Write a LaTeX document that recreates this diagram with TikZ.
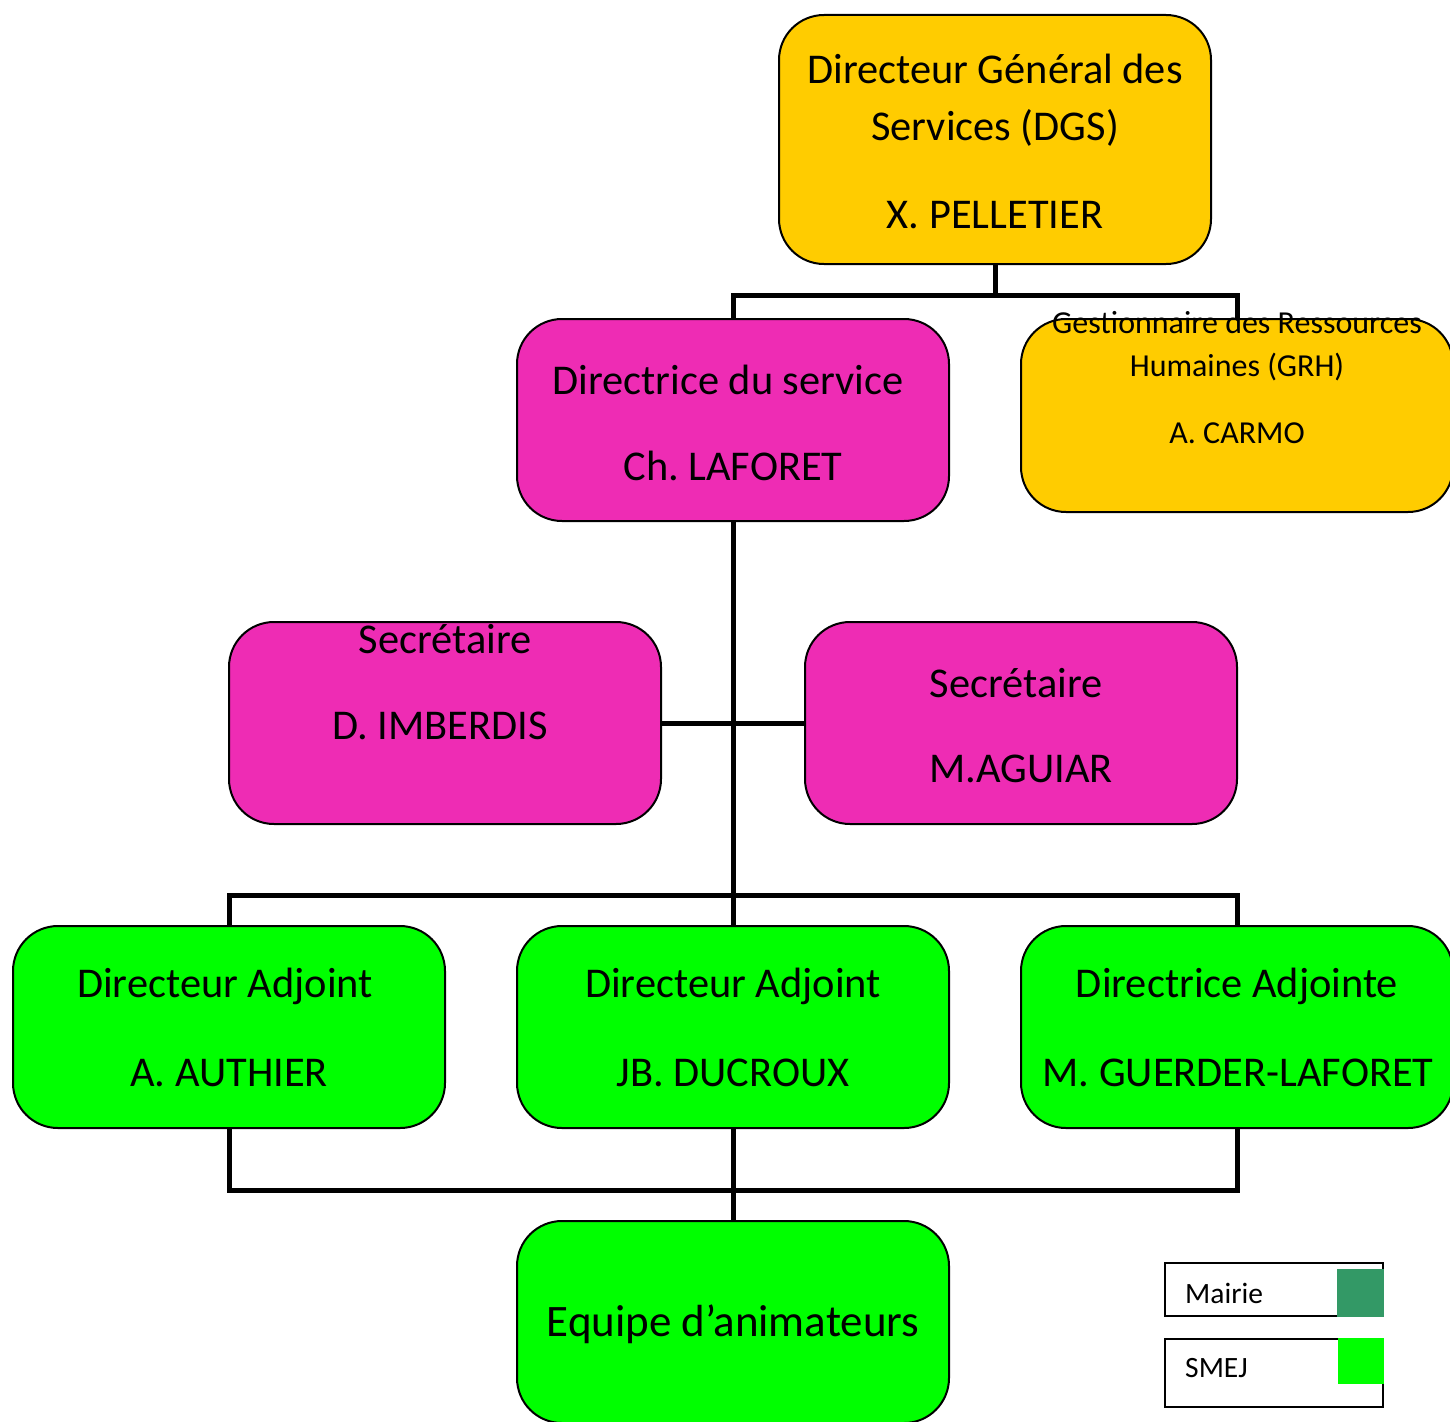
\documentclass[tikz,border=0pt]{standalone}
\usepackage{fontspec}
\setmainfont{Carlito}
\definecolor{cyellow}{RGB}{255,204,0}
\definecolor{cpink}{RGB}{238,44,180}
\definecolor{cgreen}{RGB}{0,255,0}
\definecolor{cmairie}{RGB}{51,153,102}
\frenchspacing
\begin{document}
\begin{tikzpicture}[x=1pt,y=-1pt,
  box/.style={draw=black,line width=2pt,rounded corners=45pt,minimum width=432pt,minimum height=202pt,inner sep=0pt},
  big/.style={font=\fontsize{42.4}{50}\selectfont,inner sep=0pt,anchor=center},
  huge/.style={font=\fontsize{45}{54}\selectfont,inner sep=0pt,anchor=center},
  small/.style={font=\fontsize{32}{38}\selectfont,inner sep=0pt,anchor=center},
  leg/.style={font=\fontsize{29.5}{35}\selectfont,inner sep=0pt,anchor=west},
  conn/.style={line width=5pt}]
\useasboundingbox (0,0) rectangle (1450,1421);
\coordinate (j1) at (995,295);
\coordinate (j1l) at (733,295);
\coordinate (j1r) at (1237,295);
\coordinate (j2) at (733,895);
\coordinate (j2l) at (229,895);
\coordinate (j2r) at (1237,895);
\coordinate (j3) at (733,1190);
\coordinate (j3l) at (229,1190);
\coordinate (j3r) at (1237,1190);
% boxes
\node[box,fill=cyellow,minimum height=249pt] (dgs) at (995,139.5) {};
\node[box,fill=cpink] (dir) at (733,420) {};
\node[box,fill=cyellow,minimum height=193pt] (grh) at (1237,415.5) {};
\node[box,fill=cpink] (sec1) at (445,723) {};
\node[box,fill=cpink] (sec2) at (1021,723) {};
\node[box,fill=cgreen] (da1) at (229,1027) {};
\node[box,fill=cgreen] (da2) at (733,1027) {};
\node[box,fill=cgreen] (da3) at (1237,1027) {};
\node[box,fill=cgreen] (eq) at (733,1322) {};
% connector lines
\draw[conn] (dgs.south) -- (j1);
\draw[conn] (j1l |- dir.north) -- (j1l) -- (j1r) -- (j1r |- grh.north);
\draw[conn] (dir.south) -- (da2.north);
\draw[conn] (sec1.east) -- (sec2.west);
\draw[conn] (da1.north) -- (j2l) -- (j2r) -- (da3.north);
\draw[conn] (da1.south) -- (j3l) -- (j3r) -- (da3.south);
\draw[conn] (da2.south) -- (eq.north);
% texts
\node[big] (t1) at (995,69) {Directeur Général des};
\node[big] (t2) at (995,128) {Services (DGS)};
\node[big] (t3) at (995,215) {X. PELLETIER};
\node[big] (t4) at (728,380) {Directrice du service};
\node[big] (t5) at (733,466) {Ch. LAFORET};
\node[small] (t6) at (1237,323) {Gestionnaire des Ressources};
\node[small] (t7) at (1237,367) {Humaines (GRH)};
\node[small] (t8) at (1237,433) {A. CARMO};
\node[big] (t9) at (445,639) {Secrétaire};
\node[big] (t10) at (440,726) {D. IMBERDIS};
\node[big] (t11) at (1016,683) {Secrétaire};
\node[big] (t12) at (1021,769) {M.AGUIAR};
\node[big] (t13) at (225,986) {Directeur Adjoint};
\node[big] (t14) at (229,1073) {A. AUTHIER};
\node[big] (t15) at (733,986) {Directeur Adjoint};
\node[big] (t16) at (733,1073) {JB. DUCROUX};
\node[big] (t17) at (1237,986) {Directrice Adjointe};
\node[big] (t18) at (1238,1073) {M. GUERDER-LAFORET};
\node[huge] (t19) at (733,1324) {Equipe d’animateurs};
% legend
\node[draw=black,line width=1.5pt,minimum width=218pt,minimum height=53pt,inner sep=0pt] (lm) at (1274,1289.5) {};
\node[fill=cmairie,minimum width=47pt,minimum height=48pt,inner sep=0pt,anchor=south east] (sm) at (lm.south east) {};
\node[leg] (lmt) at (1185,1293) {Mairie};
\node[draw=black,line width=1.5pt,minimum width=218pt,minimum height=68pt,inner sep=0pt] (ls) at (1274,1373) {};
\node[fill=cgreen,minimum width=46pt,minimum height=46pt,inner sep=0pt,anchor=north east] (ss) at (ls.north east) {};
\node[leg] (lst) at (1185,1368) {SMEJ};
\end{tikzpicture}
\end{document}
